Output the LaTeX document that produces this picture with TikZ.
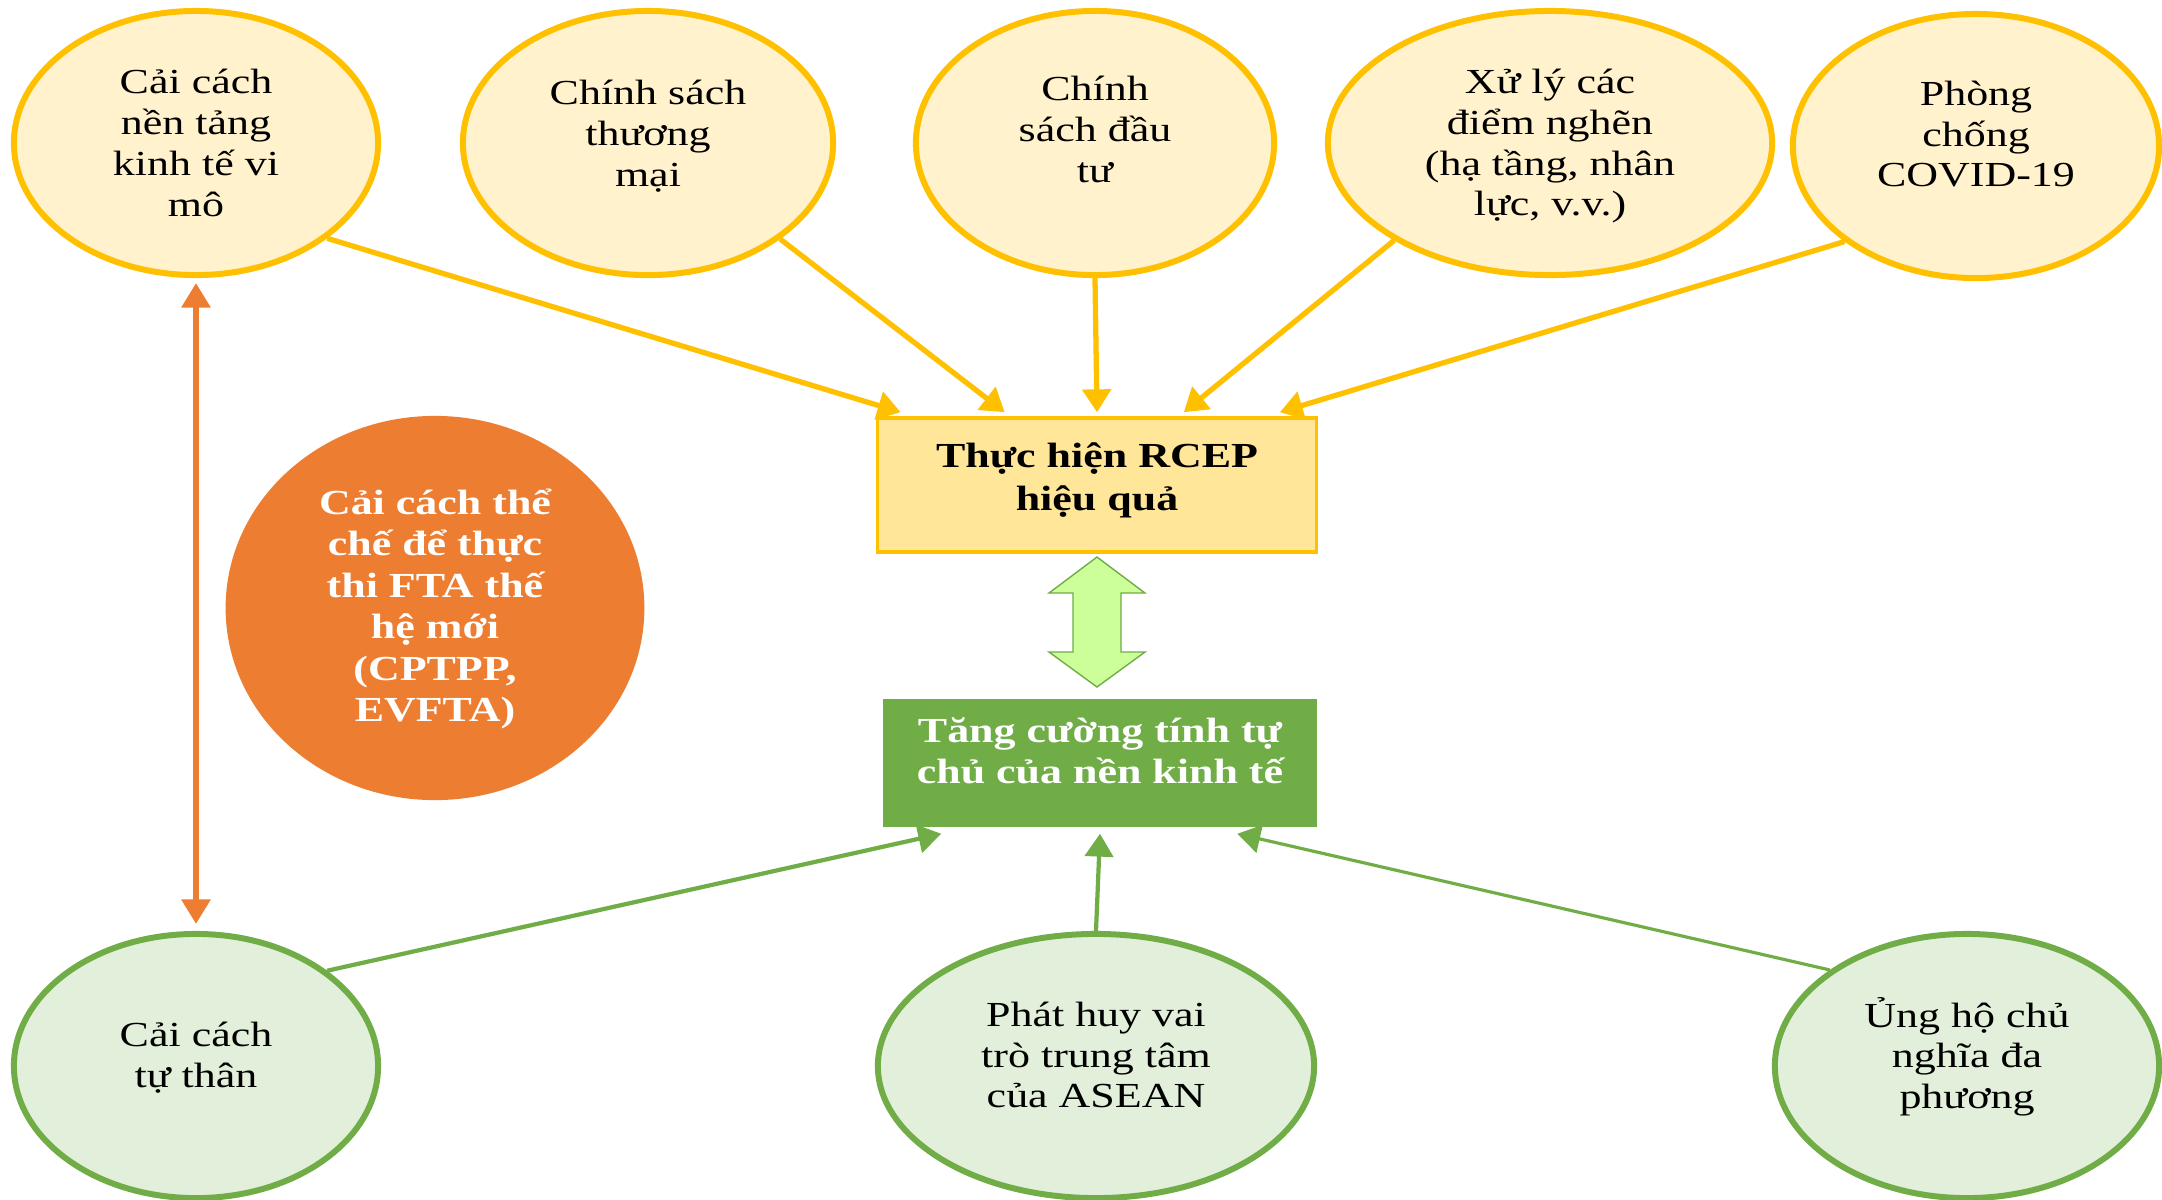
\documentclass[tikz,border=0pt]{standalone}
\usepackage{fontspec}
\setmainfont{Liberation Serif}[FakeStretch=1.25]
\usetikzlibrary{arrows.meta,shapes.geometric}

\definecolor{gold}{HTML}{FFC000}
\definecolor{cream}{HTML}{FFF2CC}
\definecolor{sand}{HTML}{FFE699}
\definecolor{leaf}{HTML}{70AD47}
\definecolor{mint}{HTML}{E2EFDA}
\definecolor{lime}{HTML}{CCFF99}
\definecolor{rust}{HTML}{ED7D31}

\newcommand\lift[2]{\raisebox{#1}[\height][\depth]{\begin{tabular}{@{}c@{}}#2\end{tabular}}}

\tikzset{
  txt/.style={align=center,font=\fontsize{10}{11.6}\selectfont},
  topoval/.style={txt,ellipse,draw=gold,fill=cream,line width=1.7pt,inner sep=0pt,minimum height=2.64cm},
  lowoval/.style={txt,ellipse,draw=leaf,fill=mint,line width=1.7pt,inner sep=0pt,minimum height=2.64cm},
  goldarr/.style={draw=gold,line width=1.5pt,-{Triangle[length=6.5pt,width=8pt]}},
  leafarr/.style={draw=leaf,line width=1.2pt,-{Triangle[length=6.5pt,width=8pt]}},
}

\begin{document}
\begin{tikzpicture}[x=0.01cm,y=-0.01cm]
\useasboundingbox[fill=white] (0,0) rectangle (2162,1199);
\clip (0,0) rectangle (2162,1199);

\node[topoval,minimum width=3.64cm] (macro) at (196,143) {Cải cách\\nền tảng\\kinh tế vi\\mô};
\node[topoval,minimum width=3.70cm] (trade) at (648,143) {\lift{1.6pt}{Chính sách\\thương\\mại}};
\node[topoval,minimum width=3.58cm] (invest) at (1095,143) {\lift{2.8pt}{Chính\\sách đầu\\tư}};
\node[topoval,minimum width=4.44cm] (bottle) at (1550,143) {\lift{-1pt}{Xử lý các\\điểm nghẽn\\(hạ tầng, nhân\\lực, v.v.)}};
\node[topoval,minimum width=3.66cm] (covid) at (1976,146) {\lift{2.3pt}{Phòng\\chống\\COVID-19}};

\node[txt,draw=gold,fill=sand,line width=1pt,minimum width=4.39cm,minimum height=1.34cm,
  font=\fontsize{10}{12.2}\selectfont\bfseries] (rcep) at (1097,485) {\lift{1.4pt}{Thực hiện RCEP\\hiệu quả}};

\node[txt,fill=leaf,text=white,minimum width=4.34cm,minimum height=1.28cm,
  font=\fontsize{10}{11.8}\selectfont\bfseries] (auto) at (1100,763) {\lift{2.3pt}{Tăng cường tính tự\\chủ của nền kinh tế}};

\node[txt,circle,fill=rust,text=white,inner sep=0pt,minimum size=3.84cm,xscale=1.09,
  font=\fontsize{10}{11.8}\selectfont\bfseries] (fta) at (435,608) {};
\node[txt,text=white,font=\fontsize{10}{11.8}\selectfont\bfseries] (ftatext) at (435,609)
  {Cải cách thể\\chế để thực\\thi FTA thế\\hệ mới\\(CPTPP,\\EVFTA)};

\node[lowoval,minimum width=3.64cm] (self) at (196,1066) {\lift{2pt}{Cải cách\\tự thân}};
\node[lowoval,minimum width=4.36cm] (asean) at (1096,1066) {\lift{2pt}{Phát huy vai\\trò trung tâm\\của ASEAN}};
\node[lowoval,minimum width=3.84cm] (multi) at (1967,1066) {\lift{2pt}{Ủng hộ chủ\\nghĩa đa\\phương}};

\draw[goldarr] (macro.-36) -- ([xshift=0.25cm,yshift=0.04cm]rcep.north west);
\draw[goldarr] (trade.-36) -- ([xshift=1.29cm,yshift=0.04cm]rcep.north west);
\draw[goldarr] (invest.south) -- ([yshift=0.04cm]rcep.north);
\draw[goldarr] (bottle.-148) -- ([xshift=3.08cm,yshift=0.04cm]rcep.north west);
\draw[goldarr] (covid.-144) -- ([xshift=4.04cm,yshift=0.04cm]rcep.north west);

\draw[fill=lime,draw=leaf,line width=0.4pt] (1097,557) -- (1145,593) -- (1121,593) -- (1121,652)
  -- (1145,652) -- (1097,687) -- (1049,652) -- (1073,652) -- (1073,593) -- (1049,593) -- cycle;

\draw[rust,line width=1.7pt,{Triangle[length=7pt,width=8pt]}-{Triangle[length=7pt,width=8pt]}]
  ([yshift=-0.05cm]macro.south) -- ([yshift=0.07cm]self.north);

\draw[leafarr] (self.36) -- ([xshift=0.59cm,yshift=-0.06cm]auto.south west);
\draw[leafarr] (asean.north) -- ([yshift=-0.06cm]auto.south);
\draw[leafarr,line width=0.9pt] (multi.145) -- ([xshift=3.55cm,yshift=-0.06cm]auto.south west);
\end{tikzpicture}
\end{document}
